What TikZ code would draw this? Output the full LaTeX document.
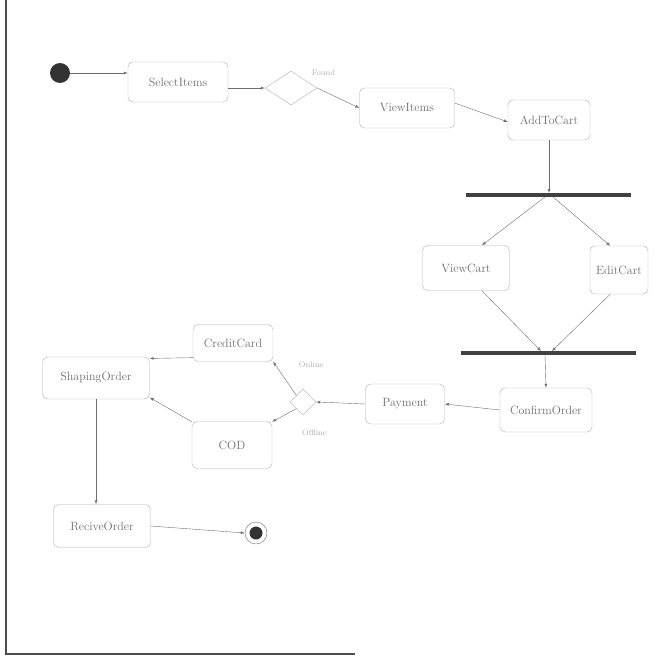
\documentclass[tikz,border=0pt]{standalone}
\usepackage{tikz}
\usetikzlibrary{arrows,shapes}
\definecolor{scangray}{RGB}{110,110,110}
\definecolor{boxgray}{RGB}{175,175,175}
\tikzstyle{actionbox}=[draw=boxgray,rounded corners=5pt,font=\large,text=scangray,minimum height=40pt,inner sep=2pt]
\tikzstyle{flowarc}=[->,>=latex,draw=scangray,thin]
\tikzstyle{guardlabel}=[font=\footnotesize,text=boxgray]
\tikzstyle{syncbar}=[fill=black!75,minimum height=3.5pt,minimum width=165pt,inner sep=0pt]
\tikzstyle{choice}=[diamond,draw=boxgray,inner sep=0pt]

\begin{document}
\begin{tikzpicture}[x=1pt,y=-1pt]
\useasboundingbox (0,0) rectangle (658,659);

% page frame of the scan
\draw[black!70,line width=1.2pt] (6,0) -- (6,654) -- (355,654);

\node[circle,fill=black!80,minimum size=20pt,inner sep=0pt] (start) at (60,73) {};
\node[actionbox,minimum width=100pt] (SI) at (178,82) {SelectItems};
\node[choice,minimum width=52pt,minimum height=34pt] (D1) at (291,88) {};
\node[actionbox,minimum width=95pt] (VI) at (407,108) {ViewItems};
\node[actionbox,minimum width=82pt] (AC) at (549,120) {AddToCart};

\node[syncbar] (FORK) at (548,195) {};
\node[actionbox,minimum width=87pt,minimum height=45pt] (VC) at (466,268) {ViewCart};
\node[actionbox,minimum width=58pt,minimum height=48pt] (EC) at (619,270) {EditCart};
\node[syncbar,minimum width=175pt] (JOIN) at (548,353) {};

\node[actionbox,minimum width=92pt,minimum height=44pt] (CO) at (546,410) {ConfirmOrder};
\node[actionbox,minimum width=79pt] (PA) at (405,404) {Payment};
\node[choice,minimum width=26pt,minimum height=26pt] (D2) at (303,402) {};
\node[actionbox,minimum width=80pt,minimum height=37pt] (CC) at (233,343) {CreditCard};
\node[actionbox,minimum width=80pt,minimum height=47pt] (COD) at (232,445) {COD};
\node[actionbox,minimum width=107pt,minimum height=42pt] (SO) at (96,378) {ShapingOrder};
\node[actionbox,minimum width=97pt,minimum height=43pt] (RO) at (102,526) {ReciveOrder};
\node[circle,draw=scangray,minimum size=22pt,inner sep=0pt] (stop) at (256,533) {};
\node[circle,fill=black!80,minimum size=13pt,inner sep=0pt] (stopdot) at (256,533) {};

\draw[flowarc] (start) -- (start -| SI.west);
\draw[flowarc] (SI.east |- D1) -- (D1.west);
\draw[flowarc] (D1.east) -- (VI.west) node[guardlabel,pos=0.15,above=12pt]{Found};
\draw[flowarc] ([yshift=5pt]VI.east) -- ([yshift=-2pt]AC.west);
\draw[flowarc] (AC.south) -- (AC.south |- FORK.north);

\draw[flowarc] ([xshift=-3pt]FORK.south) -- (VC.55);
\draw[flowarc] ([xshift=5pt]FORK.south) -- (EC.110);
\draw[flowarc] (VC.-55) -- ([xshift=-7pt]JOIN.north);
\draw[flowarc] (EC.-110) -- ([xshift=4pt]JOIN.north);
\draw[flowarc] ([xshift=-3pt]JOIN.south) -- (CO.north);

\draw[flowarc] (CO.west) -- (PA.east);
\draw[flowarc] (PA.west) -- (D2.east);
\draw[flowarc] (D2.north west) -- (CC.-25) node[guardlabel,pos=0.9,right=20pt]{Online};
\draw[flowarc] (D2.south west) -- (COD.30) node[guardlabel,pos=0.9,right=24pt,yshift=-12pt]{Offline};
\draw[flowarc] (CC.-160) -- (SO.20);
\draw[flowarc] (COD.150) -- (SO.-20);
\draw[flowarc] (SO.south) -- (SO.south |- RO.north);
\draw[flowarc] (RO.east) -- (stop.west);

\end{tikzpicture}
\end{document}
